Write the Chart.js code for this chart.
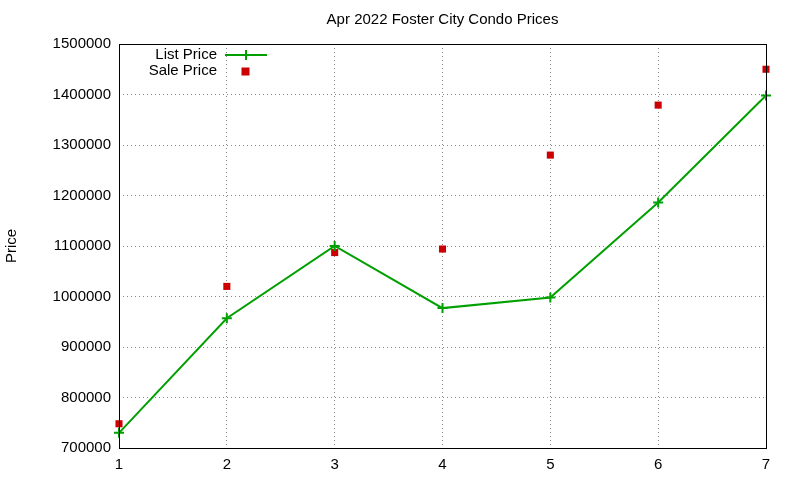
<!DOCTYPE html>
<html><head><script src="https://cdn.jsdelivr.net/npm/chart.js@4"></script>
<style>body{margin:0;background:#fff}#w{width:800px;height:480px}</style></head>
<body><div id="w"><canvas id="c"></canvas></div>
<script>
const xs=[1,2,3,4,5,6,7];
const listPrice=[730000,957000,1100000,977000,998000,1186000,1398000];
const salePrice=[748000,1020000,1087000,1094000,1280000,1379000,1450000];
const F='"Liberation Sans", Arial, sans-serif';
const deco={id:'deco',afterDraw(ch){const c=ch.ctx,a=ch.chartArea;c.save();
c.fillStyle='#000';c.font='15px '+F;c.textAlign='center';c.textBaseline='middle';
c.fillText('Apr 2022 Foster City Condo Prices',(a.left+a.right)/2,20);
c.save();c.translate(12,(a.top+a.bottom)/2);c.rotate(-Math.PI/2);c.fillText('Price',0,0);c.restore();
c.strokeStyle='#000';c.lineWidth=1;c.strokeRect(a.left+0.5,a.top+0.5,a.right-a.left,a.bottom-a.top);
c.textAlign='right';c.fillText('List Price',217,55);c.fillText('Sale Price',217,71);
c.strokeStyle='#00a000';c.lineWidth=2;c.beginPath();c.moveTo(225,55);c.lineTo(267,55);c.moveTo(246,50);c.lineTo(246,60);c.moveTo(241,55);c.lineTo(251,55);c.stroke();
c.fillStyle='#cc0000';c.fillRect(241.5,67.5,8,8);c.restore();}};
new Chart(document.getElementById('c'),{
data:{datasets:[
{type:'line',clip:false,data:xs.map((x,i)=>({x,y:listPrice[i]})),borderColor:'#00a000',borderWidth:2,pointStyle:'cross',pointRadius:5,pointBorderWidth:2,pointBorderColor:'#00a000',fill:false,tension:0},
{type:'scatter',clip:false,data:xs.map((x,i)=>({x,y:salePrice[i]})),pointStyle:'rect',pointRadius:5,backgroundColor:'#cc0000',borderColor:'#cc0000',borderWidth:0}
]},
options:{responsive:true,maintainAspectRatio:false,animation:false,
layout:{padding:{top:44,right:34,left:0,bottom:0}},
plugins:{legend:{display:false},tooltip:{enabled:false}},
scales:{
x:{type:'linear',min:1,max:7,afterFit(s){s.height=32},
grid:{color:'#888',drawTicks:false},border:{display:false,dash:[1,3]},
ticks:{stepSize:1,color:'#000',font:{family:F,size:15},padding:8}},
y:{min:700000,max:1500000,afterFit(s){s.width=119},
grid:{color:'#888',drawTicks:false},border:{display:false,dash:[1,3]},
ticks:{stepSize:100000,color:'#000',font:{family:F,size:15},padding:8,callback:v=>String(v)}}
}},plugins:[deco]});
</script></body></html>
